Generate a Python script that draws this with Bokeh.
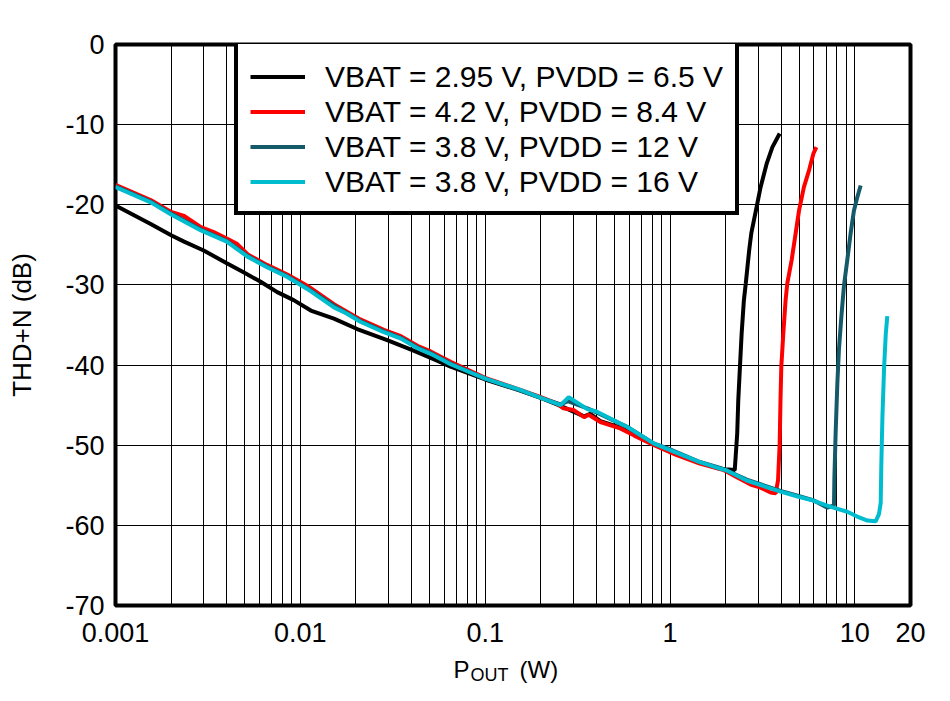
from bokeh.plotting import figure
from bokeh.layouts import column
from bokeh.models import FixedTicker, Legend, LegendItem, Label, Range1d
from bokeh.embed import file_html
from bokeh.resources import INLINE

FONT = "Liberation Sans"

# ---------------- axes ----------------
x_ticks = [0.001, 0.01, 0.1, 1.0, 10.0, 20.0]
x_tick_labels = ["0.001", "0.01", "0.1", "1", "10", "20"]
x_minor_ticks = [m * 10.0 ** e for e in range(-3, 2) for m in range(2, 10) if m * 10.0 ** e <= 20]
y_ticks = [0, -10, -20, -30, -40, -50, -60, -70]
y_tick_labels = ["0", "-10", "-20", "-30", "-40", "-50", "-60", "-70"]
y_title = "THD+N (dB)"
x_title_parts = ["P", "OUT", "(W)"]   # P with subscript OUT, then (W)

series_labels = ["VBAT = 2.95 V, PVDD = 6.5 V",
                 "VBAT = 4.2 V, PVDD = 8.4 V",
                 "VBAT = 3.8 V, PVDD = 12 V",
                 "VBAT = 3.8 V, PVDD = 16 V"]
series_colors = ["#000000", "#FF0000", "#145A69", "#00BCCF"]

# ---------------- data (POUT in W, THD+N in dB) ----------------
black_x = [0.001, 0.00155, 0.002, 0.00235, 0.003, 0.004, 0.0049, 0.0061, 0.0075, 0.0092,
           0.0114, 0.0152, 0.0203, 0.0295, 0.041, 0.053, 0.065, 0.1, 0.155, 0.2,
           0.25, 0.28, 0.343, 0.37, 0.42, 0.54, 0.64, 0.82, 1.08, 1.45,
           1.85, 2.0, 2.24, 2.31, 2.34, 2.39, 2.44, 2.51, 2.57, 2.68,
           2.75, 2.94, 3.09, 3.33, 3.58, 3.92]
black_y = [-20.1, -22.4, -23.8, -24.6, -25.7, -27.3, -28.4, -29.6, -30.9, -31.9,
           -33.2, -34.2, -35.5, -36.9, -38.2, -39.3, -40.2, -41.8, -43.2, -44.1,
           -45.0, -45.5, -46.4, -46.1, -47.0, -47.8, -48.6, -49.9, -51.0, -52.2,
           -52.9, -53.0, -53.1, -48.5, -44.4, -40.2, -36.1, -31.9, -29.8, -25.7,
           -23.6, -20.3, -17.8, -14.9, -12.8, -11.1]

red_x = [0.001, 0.00155, 0.002, 0.00235, 0.0029, 0.0034, 0.004, 0.00456, 0.0052, 0.0066,
         0.0085, 0.0109, 0.0152, 0.0211, 0.0283, 0.035, 0.043, 0.0507, 0.065, 0.1,
         0.155, 0.2, 0.245, 0.265, 0.3, 0.343, 0.363, 0.42, 0.538, 0.64,
         0.82, 1.08, 1.45, 1.95, 2.26, 2.73, 3.09, 3.5, 3.73, 3.84,
         3.92, 3.96, 4.0, 4.1, 4.22, 4.31, 4.55, 4.78, 4.99, 5.3,
         5.65, 5.97, 6.19]
red_y = [-17.5, -19.4, -20.9, -21.4, -22.8, -23.4, -24.2, -24.9, -26.2, -27.5,
         -28.7, -30.1, -32.4, -34.3, -35.6, -36.4, -37.6, -38.3, -39.6, -41.6,
         -43.1, -44.0, -44.8, -45.4, -45.6, -46.5, -46.2, -47.1, -47.9, -48.8,
         -50.0, -51.2, -52.3, -53.1, -53.9, -54.9, -55.3, -55.9, -56.0, -54.4,
         -49.8, -44.4, -40.2, -36.1, -31.9, -29.8, -26.9, -23.6, -20.7, -17.8,
         -15.7, -13.6, -12.8]

teal_x = [0.001, 0.00155, 0.002, 0.0029, 0.004, 0.0052, 0.0066, 0.0085, 0.0109, 0.0152,
          0.0211, 0.0283, 0.035, 0.043, 0.0507, 0.065, 0.1, 0.155, 0.2, 0.256,
          0.28, 0.357, 0.4, 0.538, 0.585, 0.82, 1.0, 1.45, 1.85, 2.0,
          2.6, 3.96, 4.9, 6.0, 7.1, 7.71, 7.75, 7.87, 8.04, 8.2,
          8.45, 8.73, 9.1, 9.48, 9.89, 10.3, 10.75]
teal_y = [-17.7, -19.6, -21.1, -23.1, -24.5, -26.4, -27.7, -28.9, -30.4, -32.6,
          -34.5, -35.8, -36.6, -37.8, -38.5, -39.8, -41.7, -43.2, -44.1, -44.9,
          -44.5, -45.4, -45.9, -47.3, -47.7, -49.8, -50.5, -52.1, -52.8, -53.1,
          -54.3, -55.7, -56.3, -56.9, -57.8, -57.5, -54.0, -48.5, -42.3, -38.1,
          -34.0, -30.1, -26.9, -23.6, -20.7, -19.1, -17.6]

cyan_x = [0.001, 0.00155, 0.002, 0.0029, 0.004, 0.0052, 0.0066, 0.0085, 0.0109, 0.0152,
          0.0179, 0.0211, 0.0283, 0.035, 0.043, 0.0507, 0.065, 0.1, 0.155, 0.2,
          0.256, 0.283, 0.357, 0.4, 0.538, 0.585, 0.82, 1.0, 1.45, 1.85,
          2.0, 2.6, 3.96, 4.9, 5.95, 7.4, 9.1, 10.3, 11.7, 12.96,
          13.5, 13.8, 13.9, 14.1, 14.4, 14.7, 14.98]
cyan_y = [-17.8, -19.7, -21.2, -23.2, -24.6, -26.5, -27.8, -29.0, -30.5, -32.8,
          -33.6, -34.6, -35.9, -36.7, -37.9, -38.6, -39.9, -41.7, -43.1, -44.1,
          -45.0, -44.0, -45.5, -45.8, -47.3, -47.7, -49.8, -50.6, -52.1, -52.9,
          -53.1, -54.4, -55.8, -56.4, -56.9, -57.7, -58.3, -58.9, -59.4, -59.5,
          -58.6, -57.2, -52.6, -46.4, -40.2, -36.1, -33.9]

series = [(black_x, black_y), (red_x, red_y), (teal_x, teal_y), (cyan_x, cyan_y)]
for sx, sy in series:
    assert len(sx) == len(sy)

# ---------------- main figure ----------------
p = figure(width=940, height=654, x_axis_type="log",
           x_range=Range1d(0.001, 20), y_range=Range1d(-70, 0),
           output_backend="svg", toolbar_location=None,
           min_border_left=115, min_border_right=30, min_border_top=44, min_border_bottom=49,
           background_fill_color="white", border_fill_color="white")

p.outline_line_color = "black"
p.outline_line_width = 4
p.outline_line_alpha = 1

xt = FixedTicker(ticks=x_ticks, minor_ticks=x_minor_ticks)
yt = FixedTicker(ticks=y_ticks, minor_ticks=[])
p.xaxis.ticker = xt
p.yaxis.ticker = yt
p.xgrid.ticker = xt
p.ygrid.ticker = yt
p.xaxis.major_label_overrides = dict(zip(x_ticks, x_tick_labels))
p.yaxis.major_label_overrides = dict(zip([float(v) for v in y_ticks], y_tick_labels))

p.xgrid.grid_line_color = "black"
p.xgrid.grid_line_alpha = 1
p.xgrid.grid_line_width = 1
p.xgrid.minor_grid_line_color = "black"
p.xgrid.minor_grid_line_alpha = 1
p.xgrid.minor_grid_line_width = 1
p.ygrid.grid_line_color = "black"
p.ygrid.grid_line_alpha = 1
p.ygrid.grid_line_width = 1

for ax in (p.xaxis[0], p.yaxis[0]):
    ax.axis_line_color = None
    ax.major_tick_line_color = None
    ax.minor_tick_line_color = None
    ax.major_tick_out = 0
    ax.major_tick_in = 0
    ax.minor_tick_out = 0
    ax.minor_tick_in = 0
    ax.major_label_text_font = FONT
    ax.major_label_text_font_size = "27px"
    ax.major_label_text_color = "black"

p.xaxis.major_label_standoff = 17
p.yaxis.major_label_standoff = 11
p.yaxis.axis_label = y_title
p.yaxis.axis_label_text_font = FONT
p.yaxis.axis_label_text_font_size = "26px"
p.yaxis.axis_label_text_font_style = "normal"
p.yaxis.axis_label_text_color = "black"
p.yaxis.axis_label_standoff = 25

# ---------------- lines ----------------
renderers = []
for (sx, sy), col in zip(series, series_colors):
    r = p.line(sx, sy, line_color=col, line_width=4)
    renderers.append(r)

legend = Legend(items=[LegendItem(label=lab, renderers=[r]) for lab, r in zip(series_labels, renderers)],
                location=(119, 390))
legend.title = " "
legend.title_text_font_size = "1px"
legend.title_standoff = 6
legend.border_line_color = "black"
legend.border_line_width = 4
legend.border_line_alpha = 1
legend.background_fill_color = "white"
legend.background_fill_alpha = 1
legend.padding = 12
legend.spacing = 0
legend.margin = 0
legend.glyph_width = 55
legend.glyph_height = 35
legend.label_height = 35
legend.label_standoff = 20
legend.label_text_font = FONT
legend.label_text_font_size = "30px"
legend.label_text_color = "black"
legend.label_text_baseline = "middle"
p.add_layout(legend)

# ---------------- x axis title strip (P with subscript OUT) ----------------
t = figure(width=940, height=46, title=None,
           x_range=Range1d(0, 795), y_range=Range1d(0, 46),
           x_axis_type=None, y_axis_type=None, output_backend="svg", toolbar_location=None,
           min_border_left=115, min_border_right=30, min_border_top=0, min_border_bottom=0,
           outline_line_color=None,
           background_fill_color="white", border_fill_color="white")
t.grid.visible = False
title_style = [(338, 31, "24px"), (355, 26, "18px"), (404, 31, "24px")]
for txt, (tx, ty, size) in zip(x_title_parts, title_style):
    t.add_layout(Label(x=tx, y=ty, x_units="screen", y_units="screen", text=txt,
                       text_font=FONT, text_font_size=size,
                       text_color="black", text_baseline="middle", text_align="left"))

layout = column(p, t, spacing=0)
open("out.html", "w").write(file_html(layout, INLINE))
